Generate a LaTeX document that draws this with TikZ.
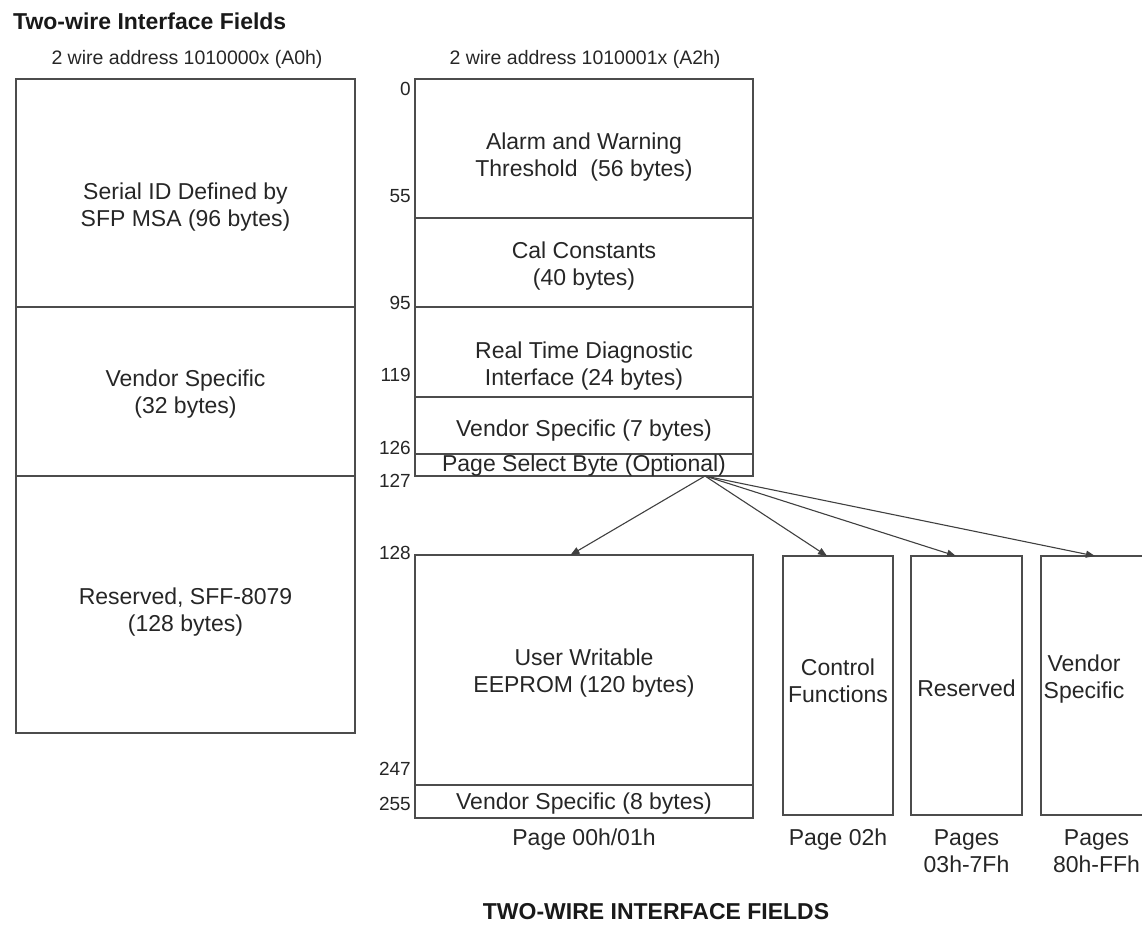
\documentclass[tikz,border=0pt]{standalone}
\usepackage{fontspec}
\setmainfont{Liberation Sans}
\usetikzlibrary{positioning, calc, arrows.meta}

\begin{document}
\begin{tikzpicture}[x=1pt, y=-1pt,
  field/.style={draw=black!70, line width=1.2pt, inner sep=0pt, outer sep=0pt},
  fieldtext/.style={inner sep=0pt, align=center, text=black!85, font=\fontsize{23}{27}\selectfont},
  wide/.style={field, minimum width=338pt},
  pagebox/.style={field, minimum width=110pt, minimum height=259pt, anchor=north west},
  offset/.style={anchor=east, inner sep=0pt, text=black!85, font=\fontsize{19}{22}\selectfont},
  head/.style={inner sep=0pt, text=black!85, font=\fontsize{19.5}{22}\selectfont},
  pagelabel/.style={fieldtext, anchor=north},
  title/.style={inner sep=0pt, text=black!90, font=\bfseries\fontsize{23}{27}\selectfont},
  link/.style={draw=black!75, line width=1.1pt, -{Triangle[length=9pt,width=7pt]}}]

  \useasboundingbox (0,0) rectangle (1142,928);

  \node[title, anchor=west] (title) at (13,21) {Two-wire Interface Fields};

  % A0h
  \node[head] (hdA0) at (187,59) {2 wire address 1010000x (A0h)};
  \node[wide, minimum width=339pt, minimum height=228pt, anchor=north west,
    label={[fieldtext, yshift=-14pt]center:{Serial ID Defined by\\SFP MSA (96 bytes)}}] (serial) at (16,79) {};
  \node[wide, minimum width=339pt, minimum height=169pt, below=0pt of serial,
    label={[fieldtext, yshift=-3pt]center:{Vendor Specific\\(32 bytes)}}] (vendA) {};
  \node[wide, minimum width=339pt, minimum height=257pt, below=0pt of vendA,
    label={[fieldtext, yshift=-8pt]center:{Reserved, SFF-8079\\(128 bytes)}}] (rsvdA) {};

  % A2h, lower half
  \node[head] (hdA2) at (585,59) {2 wire address 1010001x (A2h)};
  \node[wide, minimum height=139pt, anchor=north west,
    label={[fieldtext, yshift=-9pt]center:{Alarm and Warning\\Threshold~~(56 bytes)}}] (alarm) at (415,79) {};
  \node[wide, minimum height=89pt, below=0pt of alarm,
    label={[fieldtext, yshift=-4pt]center:{Cal Constants\\(40 bytes)}}] (cal) {};
  \node[wide, minimum height=90pt, below=0pt of cal,
    label={[fieldtext, yshift=-14pt]center:{Real Time Diagnostic\\Interface (24 bytes)}}] (diag) {};
  \node[wide, minimum height=57pt, below=0pt of diag,
    label={[fieldtext, yshift=-5pt]center:Vendor Specific (7 bytes)}] (vendB) {};
  \node[wide, minimum height=22pt, below=0pt of vendB,
    label={[fieldtext, yshift=-1pt]center:Page Select Byte (Optional)}] (psel) {};

  % A2h, upper half
  \node[wide, minimum height=230pt, anchor=north west,
    label={[fieldtext, yshift=-3pt]center:{User Writable\\EEPROM (120 bytes)}}] (user) at (415,555) {};
  \node[wide, minimum height=33pt, below=0pt of user,
    label={[fieldtext, yshift=-2pt]center:Vendor Specific (8 bytes)}] (vendC) {};
  \node[pagelabel, below=11pt of vendC] (pg0) {Page 00h/01h};

  \node[pagebox, label={[fieldtext, yshift=5pt]center:{Control\\Functions}}] (ctrl) at (783,556) {};
  \node[pagebox, minimum width=111pt, label={[fieldtext, yshift=-3pt]center:Reserved}] (rsvdB) at (911,556) {};
  \node[pagebox, minimum width=111pt] (vendD) at (1041,556) {};
  \node[fieldtext] (vendDtxt) at (1084,679) {Vendor\\Specific};
  \node[pagelabel, below=14pt of ctrl] (pg2) {Page 02h};
  \node[pagelabel, below=14pt of rsvdB] (pg3) {Pages\\03h-7Fh};
  \node[pagelabel, below=14pt of vendD] (pg80) {Pages\\80h-FFh};

  % byte offsets
  \node[offset] (o0) at (411,89) {0};
  \node[offset] (o55) at (411,196) {55};
  \node[offset] (o95) at (411,303) {95};
  \node[offset] (o119) at (411,375) {119};
  \node[offset] (o126) at (411,448) {126};
  \node[offset] (o127) at (411,481) {127};
  \node[offset] (o128) at (411,553) {128};
  \node[offset] (o247) at (411,769) {247};
  \node[offset] (o255) at (411,804) {255};

  % page select fan-out
  \coordinate (fan) at (705,476);
  \draw[link] (fan) -- ($(user.north west)!0.46!(user.north east)$);
  \draw[link] (fan) -- ($(ctrl.north west)!0.4!(ctrl.north east)$);
  \draw[link] (fan) -- ($(rsvdB.north west)!0.405!(rsvdB.north east)$);
  \draw[link] (fan) -- ($(vendD.north west)!0.486!(vendD.north east)$);

  \node[title] (caption) at (656,912) {TWO-WIRE INTERFACE FIELDS};
\end{tikzpicture}
\end{document}
